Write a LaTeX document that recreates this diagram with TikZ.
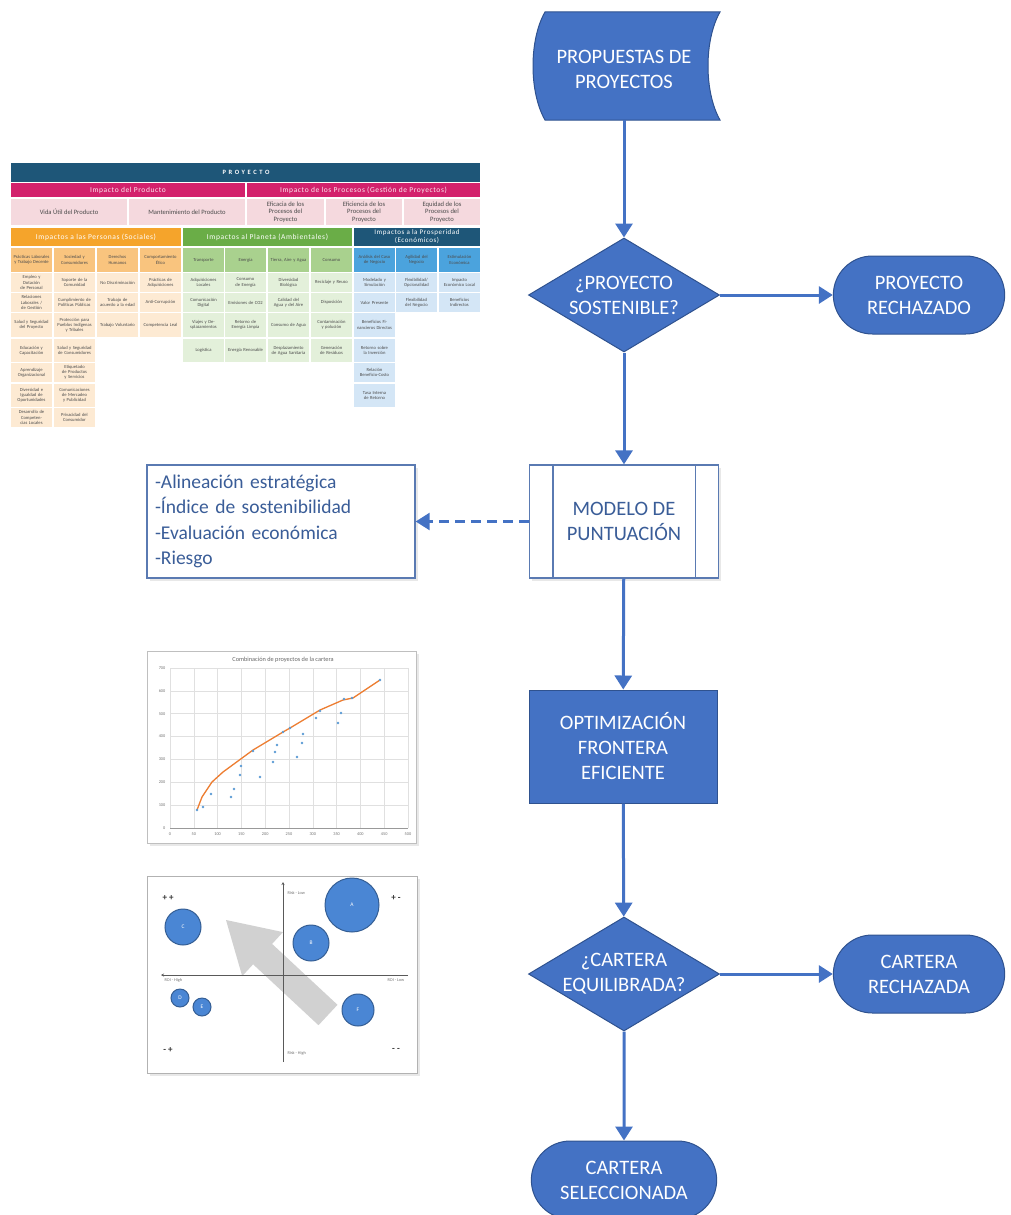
\documentclass[tikz,border=0pt]{standalone}
\usepackage{fontspec}
\setmainfont{Carlito}
\usetikzlibrary{arrows.meta,shapes.geometric,shapes.misc,shadows}

\definecolor{azul}{HTML}{4472C4}
\definecolor{azulBorde}{HTML}{2F528F}
\definecolor{textoAzul}{HTML}{3A5D98}
\definecolor{bordeCaja}{HTML}{5A7AB2}
% colores de la tabla
\definecolor{tabAzul}{HTML}{1E5678}
\definecolor{tabMagenta}{HTML}{D3216C}
\definecolor{tabRosa}{HTML}{F5D9DE}
\definecolor{cabNaranja}{HTML}{F5A42B}
\definecolor{cabVerde}{HTML}{6AAD47}
\definecolor{subNaranja}{HTML}{F9C47E}
\definecolor{subVerde}{HTML}{A9D18E}
\definecolor{subAzul}{HTML}{4BA3DD}
\definecolor{itemNaranja}{HTML}{FDEAD3}
\definecolor{itemVerde}{HTML}{E3F0DA}
\definecolor{itemAzul}{HTML}{D4E6F6}
% colores de los graficos
\definecolor{serieAzul}{HTML}{5B9BD5}
\definecolor{serieNaranja}{HTML}{ED7D31}
\definecolor{burbuja}{HTML}{4A86D4}

\tikzset{
  flujo/.style={font=\fontsize{20.5}{25}\selectfont, text=white, align=center},
  bloque/.style={flujo, fill=azul, draw=azulBorde, line width=1pt},
  decision/.style={bloque, diamond, aspect=1.675, minimum width=191pt,
    minimum height=114pt, inner sep=-6pt},
  terminal/.style={bloque, rounded rectangle, minimum width=178pt, minimum height=78pt},
  proceso/.style={bloque, rectangle, minimum width=188pt, minimum height=113pt},
  flecha/.style={azul, line width=3pt, -{Triangle[length=14pt,width=17pt]}},
  sombra/.style={drop shadow={opacity=0.18, shadow xshift=2.5pt, shadow yshift=-2.5pt}},
  celda/.style={font=\fontsize{4.6}{5.2}\selectfont, text=black!70, align=center,
    text width=36pt, inner sep=0pt},
  cabecera/.style={text=white, font=\fontsize{7.5}{8.2}\selectfont\addfontfeature{LetterSpace=8},
    align=center},
  mini/.style={font=\fontsize{4.3}{5}\selectfont, text=black!55, inner sep=0.5pt},
}

% filas de la tabla (arriba / abajo)
\def\rtop{{273,293,313,339,363,384,408}}
\def\rbot{{292,312,337,362,382,407,427}}
\newcommand{\tcol}[4]{% x, color, nombre, items
  \foreach \txt [count=\k] in {#4} {
    \pgfmathsetmacro\ya{\rtop[\k-1]}
    \pgfmathsetmacro\yb{\rbot[\k-1]}
    \fill[#2] (#1,\ya) rectangle (#1+41,\yb);
    \node[celda] (#3-\k) at (#1+20.5,{(\ya+\yb)/2}) {\txt};
  }}

\begin{document}
\begin{tikzpicture}[x=1pt,y=-1pt]
  \useasboundingbox (0,0) rectangle (1010,1215);
  \clip (0,0) rectangle (1010,1215);

  % ---------- Tabla de impactos ----------
  \fill[tabAzul] (11,163) rectangle (480,182);
  \node[text=white, font=\fontsize{6.5}{7}\selectfont\bfseries\addfontfeature{LetterSpace=40}]
    (proyecto) at (246,172.5) {PROYECTO};
  \fill[tabMagenta] (11,183) rectangle (245,197);
  \fill[tabMagenta] (247,183) rectangle (480,197);
  \node[cabecera, text=white!90!tabMagenta] (prod) at (128,190) {Impacto del Producto};
  \node[cabecera, text=white!90!tabMagenta] (proc) at (363.5,190)
    {Impacto de los Procesos (Gestión de Proyectos)};
  \foreach \xa/\xb/\txt [count=\k] in {11/127/{Vida Útil del Producto},
      129/245/{Mantenimiento del Producto},
      247/324/{Eficacia de los\\Procesos del\\Proyecto},
      326/402/{Eficiencia de los\\Procesos del\\Proyecto},
      404/480/{Equidad de los\\Procesos del\\Proyecto}} {
    \fill[tabRosa] (\xa,199) rectangle (\xb,225);
    \node[font=\fontsize{6.6}{7.6}\selectfont, text=black!70, align=center] (fase-\k)
      at ({(\xa+\xb)/2},212) {\txt};
  }
  % grupos
  \fill[cabNaranja] (11,228) rectangle (181,246);
  \fill[cabVerde] (183,228) rectangle (352,246);
  \fill[tabAzul] (354,228) rectangle (480,246);
  \node[cabecera] (personas) at (96,237) {Impactos a las Personas (Sociales)};
  \node[cabecera] (planeta) at (267.5,237) {Impactos al Planeta (Ambientales)};
  \node[cabecera, font=\fontsize{7}{8}\selectfont\addfontfeature{LetterSpace=8}]
    (prosperidad) at (417,237) {Impactos a la Prosperidad\\(Económicos)};
  % subgrupos
  \foreach \x/\col/\txt [count=\k] in {11/subNaranja/{Prácticas Laborales y Trabajo Decente},
      54/subNaranja/{Sociedad y Consumidores}, 97/subNaranja/{Derechos Humanos},
      140/subNaranja/{Comportamiento Ético}, 183/subVerde/{Transporte},
      225/subVerde/{Energía}, 268/subVerde/{Tierra, Aire y Agua}, 311/subVerde/{Consumo},
      354/subAzul/{Análisis del Caso de Negocio}, 396/subAzul/{Agilidad del Negocio},
      439/subAzul/{Estimulación Económica}} {
    \fill[\col] (\x,248) rectangle (\x+41,272);
    \node[celda] (sub-\k) at (\x+20.5,260) {\txt};
  }
  % elementos
  \tcol{11}{itemNaranja}{s1}{{Empleo y Dotación de Personal},{Relaciones Laborales / de Gestión},
    {Salud y Seguridad del Proyecto},{Educación y Capacitación},{Aprendizaje Organizacional},
    {Diversidad e Igualdad de Oportunidades},{Desarrollo de Competencias Locales}}
  \tcol{54}{itemNaranja}{s2}{{Soporte de la Comunidad},{Cumplimiento de Políticas Públicas},
    {Protección para Pueblos Indígenas y Tribales},{Salud y Seguridad de Consumidores},
    {Etiquetado de Productos y Servicios},{Comunicaciones de Mercadeo y Publicidad},
    {Privacidad del Consumidor}}
  \tcol{97}{itemNaranja}{s3}{{No Discriminación},{Trabajo de acuerdo a la edad},{Trabajo Voluntario}}
  \tcol{140}{itemNaranja}{s4}{{Prácticas de Adquisiciones},{Anti-Corrupción},{Competencia Leal}}
  \tcol{183}{itemVerde}{v1}{{Adquisiciones Locales},{Comunicación Digital},
    {Viajes y Desplazamientos},{Logística}}
  \tcol{225}{itemVerde}{v2}{{Consumo de Energía},{Emisiones de CO2},
    {Retorno de Energía Limpia},{Energía Renovable}}
  \tcol{268}{itemVerde}{v3}{{Diversidad Biológica},{Calidad del Agua y del Aire},
    {Consumo de Agua},{Desplazamiento de Agua Sanitaria}}
  \tcol{311}{itemVerde}{v4}{{Reciclaje y Reuso},{Disposición},
    {Contaminación y polución},{Generación de Residuos}}
  \tcol{354}{itemAzul}{e1}{{Modelado y Simulación},{Valor Presente},
    {Beneficios Financieros Directos},{Retorno sobre la Inversión},
    {Relación Beneficio-Costo},{Tasa Interna de Retorno}}
  \tcol{396}{itemAzul}{e2}{{Flexibilidad/ Opcionalidad},{Flexibilidad del Negocio}}
  \tcol{439}{itemAzul}{e3}{{Impacto Económico Local},{Beneficios Indirectos}}

  % ---------- Frontera eficiente ----------
  \draw[black!25, fill=white, sombra] (147,651) rectangle (416,843);
  \foreach \i in {0,...,7} {
    \draw[black!12, line width=0.5pt] (170,{828-\i*22.86}) -- (408,{828-\i*22.86});
    \pgfmathtruncatemacro\v{\i*100}
    \node[mini, anchor=east] (ytick-\i) at (166,{828-\i*22.86}) {\v};
  }
  \foreach \j in {0,...,10} {
    \draw[black!12, line width=0.5pt] ({170+\j*23.8},668) -- ({170+\j*23.8},828);
    \pgfmathtruncatemacro\v{\j*50}
    \node[mini] (xtick-\j) at ({170+\j*23.8},834) {\v};
  }
  \draw[black!40, line width=0.6pt] (170,828) -- (408,828);
  \node[font=\fontsize{6.3}{7}\selectfont, text=black!60] (titulo) at (283,660)
    {Combinación de proyectos de la cartera};
  \draw[serieNaranja, line width=1.3pt, line join=round] (197,810) -- (202,797) -- (212,782)
    -- (223,772) -- (253,750) -- (283,732) -- (290,728) -- (320,710) -- (343,700)
    -- (353,698) -- (380,680);
  \foreach \p in {(197,810),(203,807),(211,794),(231,797),(234,789),(240,775),(241,766),
      (260,777),(273,762),(275,752),(277,745),(283,732),(297,757),(303,734),(302,743),
      (316,718),(320,711),(338,723),(341,713),(344,699),(352,698),(380,680),(290,728),(253,751)}
    \fill[serieAzul] \p circle (1.4pt);

  % ---------- Matriz de cartera ----------
  \draw[black!30, fill=white, sombra] (147,876) rectangle (417,1073);
  \fill[black!18] (318.5,1025.2) -- (337.5,1004.8) -- (272.1,943.9) -- (283.0,932.1)
    -- (226,920) -- (242.2,976.1) -- (253.1,964.3) -- cycle;
  \draw[black!65, line width=0.9pt, -{Stealth[length=3pt,width=3pt]}] (408,975) -- (161,975);
  \draw[black!65, line width=0.9pt, -{Stealth[length=3pt,width=3pt]}] (283,1062) -- (283,882);
  \node[mini, anchor=west] (riesgoBajo) at (287,893) {Risk - Low};
  \node[mini, anchor=west] (riesgoAlto) at (287,1053) {Risk - High};
  \node[mini, anchor=west] (roiAlto) at (164,980) {ROI - High};
  \node[mini, anchor=east] (roiBajo) at (405,980) {ROI - Low};
  \foreach \x/\y/\txt [count=\k] in {168/898/{+ +}, 396/898/{+ -}, 168/1050/{- +}, 396/1050/{- -}}
    \node[font=\fontsize{9}{9}\selectfont\bfseries, text=black!80] (cuad-\k) at (\x,\y) {\txt};
  \foreach \x/\y/\r/\txt in {352/905/27/A, 311/943/18/B, 183/927/18/C, 180/998/9/D,
      202/1007/9/E, 358/1010/16/F} {
    \draw[burbuja!70!black, fill=burbuja, line width=1pt] (\x,\y) circle (\r pt);
    \node[font=\fontsize{5.5}{6}\selectfont, text=white] (burbuja-\txt) at (\x,\y) {\txt};
  }

  % ---------- Diagrama de flujo ----------
  \fill[azul, draw=azulBorde, line width=1pt] (545,12) -- (720,12)
    .. controls (704,40) and (704,92) .. (720,120) -- (545,120)
    .. controls (529,92) and (529,40) .. (545,12) -- cycle;
  \node[flujo, minimum width=176pt, minimum height=102pt] (propuestas) at (624,69)
    {PROPUESTAS DE\\PROYECTOS};
  \node[decision] (sostenible) at (624,295) {¿PROYECTO\\SOSTENIBLE?};
  \node[terminal] (rechazoP) at (919,295) {PROYECTO\\RECHAZADO};
  \node[proceso, fill=white, draw=bordeCaja, line width=1.3pt, text=textoAzul, sombra,
    minimum width=189pt] (modelo) at (624,521.5) {MODELO DE\\PUNTUACIÓN};
  \draw[bordeCaja, line width=1.3pt] ([xshift=24pt]modelo.north west) -- ([xshift=24pt]modelo.south west)
    ([xshift=-24pt]modelo.north east) -- ([xshift=-24pt]modelo.south east);
  \node[draw=bordeCaja, line width=1.3pt, fill=white, text=textoAzul, align=left, sombra,
    font=\fontsize{19.5}{25.6}\selectfont, text width=252pt, inner xsep=8pt,
    minimum height=113pt] (criterios) at (281,521.5)
    {-Alineación estratégica\\-Índice de sostenibilidad\\-Evaluación económica\\-Riesgo};
  \node[proceso] (optimizacion) at (623,746.5) {OPTIMIZACIÓN\\FRONTERA\\EFICIENTE};
  \node[decision] (equilibrada) at (624,974) {¿CARTERA\\EQUILIBRADA?};
  \node[terminal] (rechazoC) at (919,974) {CARTERA\\RECHAZADA};
  \node[terminal, minimum width=192pt] (seleccionada) at (624,1180) {CARTERA\\SELECCIONADA};

  % conectores
  \draw[flecha] (propuestas.south) -- (sostenible.north);
  \draw[flecha] (sostenible) -- (rechazoP);
  \draw[flecha] (sostenible) -- (modelo);
  \draw[flecha, dash pattern=on 10pt off 6pt, line width=2.5pt] (modelo) -- (criterios);
  \draw[flecha] (modelo) -- (optimizacion);
  \draw[flecha] (optimizacion) -- (equilibrada);
  \draw[flecha] (equilibrada) -- (rechazoC);
  \draw[flecha] (equilibrada) -- (seleccionada);
\end{tikzpicture}
\end{document}
